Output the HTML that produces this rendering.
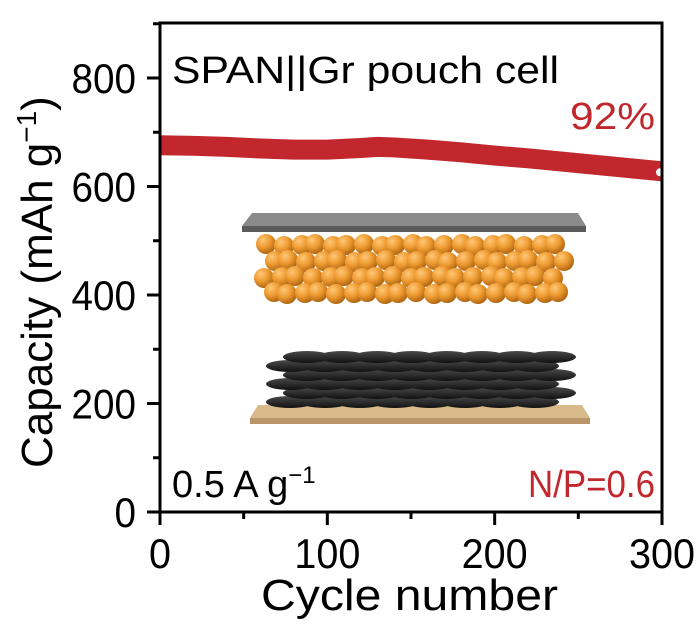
<!DOCTYPE html>
<html><head><meta charset="utf-8"><style>
body{margin:0;background:#fff}
svg{display:block;font-family:"Liberation Sans",Arial,sans-serif}
</style></head><body>
<svg id="chart" width="700" height="634" viewBox="0 0 700 634" xmlns="http://www.w3.org/2000/svg" style="position:absolute;left:0;top:0">
<defs>
<radialGradient id="sph" cx="0.35" cy="0.3" r="0.75"><stop offset="0" stop-color="#ffc878"/><stop offset="0.5" stop-color="#ee9a30"/><stop offset="1" stop-color="#a8600e"/></radialGradient>
<linearGradient id="flake" x1="0" y1="0" x2="0" y2="1"><stop offset="0" stop-color="#4a4a4a"/><stop offset="1" stop-color="#111"/></linearGradient>
</defs>
<g id="inset"></g>
<g id="plot"></g>
</svg>
<script>
const cycles=[0,20,40,60,80,100,120,130,140,160,180,200,220,240,260,280,300];
const capacity=[676,675,673,670,668,668,671,673,672,668,663,657,652,646,640,634,628];
const yTicks=[0,200,400,600,800];
const xTicks=[0,100,200,300];

const NS="http://www.w3.org/2000/svg";
const L=160,R=662,T=23,B=512;
const X=v=>L+(v/300)*(R-L);
const Y=v=>B-v*0.5425;
const svg=document.getElementById('plot');
function mk(tag,attrs,parent){const e=document.createElementNS(NS,tag);for(const k in attrs)e.setAttribute(k,attrs[k]);(parent||svg).appendChild(e);return e;}

// inset drawing
const inset=document.getElementById('inset');
mk('polygon',{points:"252,213 578,213 586,226 242,226",fill:"#8a8a8a"},inset);
mk('rect',{x:242,y:226,width:344,height:6,fill:"#5a5a5a"},inset);
const off=[0,6,-3,4];
for(let r=0;r<4;r++){for(let i=0;i<20;i++){
  const cx=268+i*16+off[r]+((i*7+r*3)%5)-2, cy=245+r*16+((i*5+r)%3)-1;
  if(cx>570)continue;
  mk('circle',{cx:cx,cy:cy,r:10,fill:"url(#sph)"},inset);
}}
mk('polygon',{points:"258,405 582,405 590,418 250,418",fill:"#d8b98a"},inset);
mk('rect',{x:250,y:418,width:340,height:6,fill:"#b8966a"},inset);
for(let r=0;r<6;r++){for(let i=0;i<9;i++){
  const cx=290+i*35+(r%2)*17, cy=402-r*9;
  if(cx>555)continue;
  mk('ellipse',{cx:cx,cy:cy,rx:24,ry:6,fill:"url(#flake)"},inset);
}}

// series band
let d="";
cycles.forEach((c,i)=>{d+=(i?"L":"M")+X(c)+","+Y(capacity[i]);});
const line=mk('path',{d:d,fill:"none",stroke:"#c1272d","stroke-width":20,"stroke-linejoin":"round"});


const endPt=mk('circle',{cx:X(cycles[cycles.length-1])-2,cy:Y(capacity[capacity.length-1])+1,r:4,fill:"#fff"});



// frame
const frame=mk('rect',{x:L,y:T,width:R-L,height:B-T,fill:"none",stroke:"#000","stroke-width":3});



for(let v=0;v<=900;v+=100){
  const major=v%200===0;
  mk('line',{x1:L-(major?13:7),x2:L,y1:Y(v),y2:Y(v),stroke:"#000","stroke-width":3});
}
yTicks.forEach(v=>{
  const t=mk('text',{x:L-24,y:Y(v)+15,"text-anchor":"end","font-size":42,textLength:String(v).length*21.5,lengthAdjust:"spacingAndGlyphs"});
  t.textContent=v;
  
  
});
for(let v=0;v<=300;v+=50){
  const major=v%100===0;
  mk('line',{x1:X(v),x2:X(v),y1:B,y2:B+(major?13:7),stroke:"#000","stroke-width":3});
}
xTicks.forEach(v=>{
  const t=mk('text',{x:X(v),y:B+56,"text-anchor":"middle","font-size":42,textLength:String(v).length*22,lengthAdjust:"spacingAndGlyphs"});
  t.textContent=v;
  
  
});
</script>
<svg style="position:absolute;left:0;top:0" width="700" height="634" xmlns="http://www.w3.org/2000/svg" font-family="Liberation Sans, Arial, sans-serif">
<text x="172" y="83" font-size="38" textLength="387" lengthAdjust="spacingAndGlyphs">SPAN||Gr pouch cell</text>
<text x="570" y="129" font-size="38" fill="#c1272d" textLength="85" lengthAdjust="spacingAndGlyphs">92%</text>
<text x="172" y="497" font-size="38">0.5 A g<tspan dy="-14" font-size="24">−1</tspan></text>
<text x="528" y="497" font-size="38" fill="#c1272d" textLength="127" lengthAdjust="spacingAndGlyphs">N/P=0.6</text>
<text x="261" y="610" font-size="44" textLength="297" lengthAdjust="spacingAndGlyphs">Cycle number</text>
<text transform="translate(52,468) rotate(-90)" font-size="44">Capacity (mAh g<tspan dy="-16" font-size="28">−1</tspan><tspan dy="16">)</tspan></text>
</svg>
</body></html>
